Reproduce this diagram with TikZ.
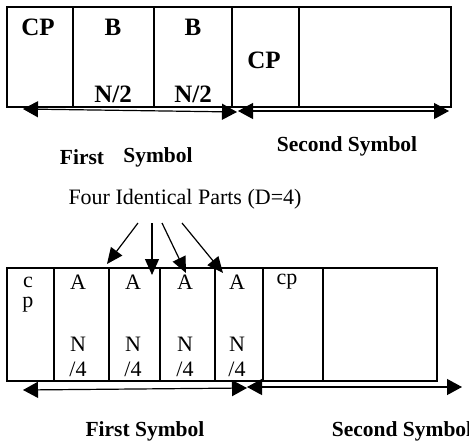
\documentclass[tikz,border=0pt]{standalone}
\usepackage{fontspec}
\setmainfont{Liberation Serif}
\usetikzlibrary{arrows.meta}
\tikzset{
  cell/.style={draw, line width=1.3pt},
  big/.style={font=\bfseries\fontsize{25}{25}\selectfont, inner sep=0pt},
  lab/.style={font=\bfseries\fontsize{21.5}{21.5}\selectfont, inner sep=0pt},
  small/.style={font=\fontsize{22}{22}\selectfont, inner sep=0pt},
  dimarrow/.style={line width=1.2pt, {Triangle[length=15pt,width=16pt]}-{Triangle[length=15pt,width=16pt]}},
  ptr/.style={line width=1.2pt, -{Triangle[length=16pt,width=14pt]}}
}
\begin{document}
\begin{tikzpicture}[x=1pt,y=-1pt]
\useasboundingbox (0,0) rectangle (469,442);
\fill[white] (0,0) rectangle (469,442);
% top frame
\draw[cell] (7,7) rectangle (451,107);
\foreach \x in {73,154,232,299} \draw[cell] (\x,7) -- (\x,107);
\node[big] (cp1) at (38,27) {CP};
\node[big] (b1) at (113,27) {B};
\node[big] (b2) at (193,27) {B};
\node[big] (n1) at (113,94) {N/2};
\node[big] (n2) at (193,94) {N/2};
\node[big] (cp2) at (264,60) {CP};
\coordinate (t1a) at (23,109);
\coordinate (t1b) at (237,112);
\coordinate (t2a) at (238,111);
\coordinate (t2b) at (449,111);
\draw[dimarrow] (t1a) -- (t1b);
\draw[dimarrow] (t2a) -- (t2b);
\node[lab] (fs1) at (82,157) {First};
\node[lab] (fs2) at (158,157) {Symbol};
\node[lab] (ss1) at (347,146) {Second Symbol};
% label and pointers
\node[small] (four) at (185,199) {Four Identical Parts (D=4)};
\coordinate (p1s) at (138,223); \coordinate (p1e) at (107,264);
\coordinate (p2s) at (152,223); \coordinate (p2e) at (152,275);
\coordinate (p3s) at (162,223); \coordinate (p3e) at (186,273);
\coordinate (p4s) at (182,223); \coordinate (p4e) at (223,273);
\draw[ptr] (p1s) -- (p1e);
\draw[ptr] (p2s) -- (p2e);
\draw[ptr] (p3s) -- (p3e);
\draw[ptr] (p4s) -- (p4e);
% bottom frame
\draw[cell] (7,268) rectangle (437,381);
\foreach \x in {54,109,160,215,263,323} \draw[cell] (\x,268) -- (\x,381);
\node[small] (c) at (28,282) {c};
\node[small] (p) at (28,305) {p};
\foreach \x/\n in {78/a1,133/a2,185/a3,237/a4} {
  \node[small] (\n) at (\x,282) {A};
  \node[small] (\n n) at (\x,344) {N};
  \node[small] (\n d) at (\x,369) {/4};
}
\node[small] (cp3) at (287,282) {cp};
\coordinate (b1a) at (23,390);
\coordinate (b1b) at (247,388);
\coordinate (b2a) at (247,387);
\coordinate (b2b) at (462,387);
\draw[dimarrow] (b1a) -- (b1b);
\draw[dimarrow] (b2a) -- (b2b);
\node[lab] (fs3) at (145,431) {First Symbol};
\node[lab] (ss3) at (402,431) {Second Symbol};
\end{tikzpicture}
\end{document}
